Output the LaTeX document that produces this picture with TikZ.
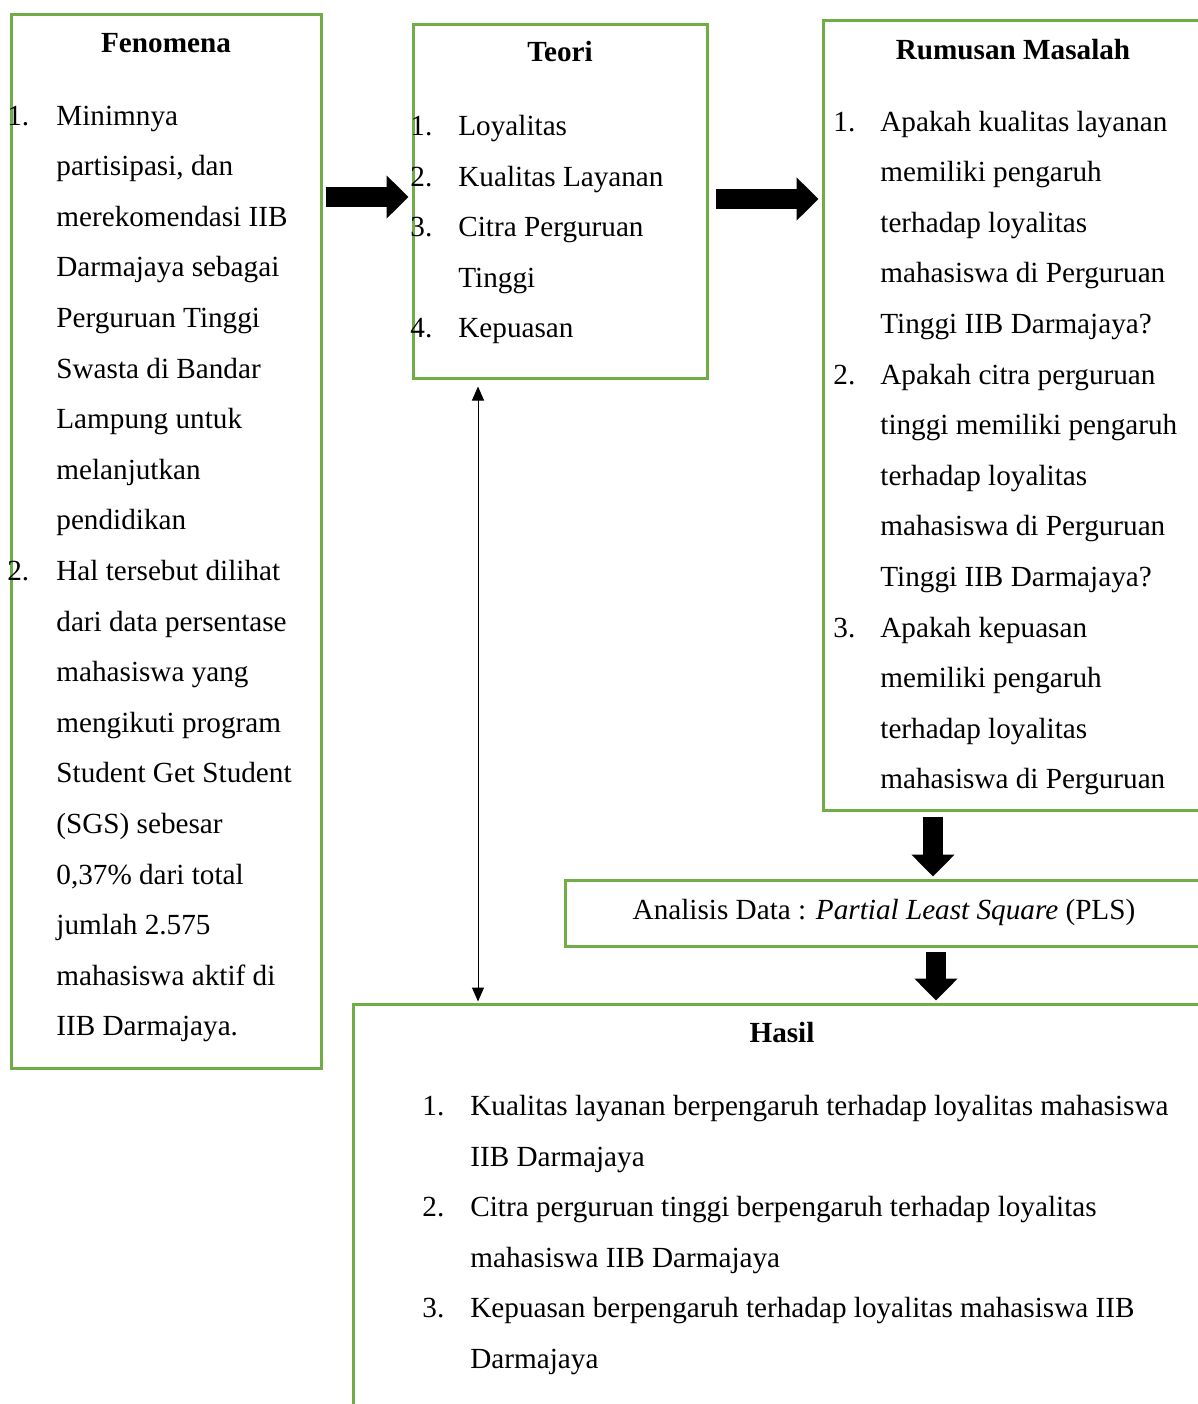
\documentclass[tikz,border=0pt]{standalone}
\usepackage{fontspec}
\setmainfont{Liberation Serif}
\usetikzlibrary{arrows.meta,fit}
\definecolor{boxgreen}{HTML}{70AD47}
\tikzset{
	box/.style={draw=boxgreen, line width=1.5pt, inner sep=0pt},
	txt/.style={font=\fontsize{14.6}{17}\selectfont, anchor=base west, inner sep=0pt},
	head/.style={txt, anchor=base, font=\fontsize{14.6}{17}\selectfont\bfseries},
	bigarrow/.style={line width=10pt, -{Triangle[length=11pt,width=21pt]}},
	thinarrow/.style={line width=0.5pt, {Triangle[length=7pt,width=6pt]}-{Triangle[length=7pt,width=6pt]}}
}

\begin{document}
\begin{tikzpicture}[x=0.5pt,y=-0.5pt]
				\useasboundingbox (0,0) rectangle (1198,1404);
				\clip (0,0) rectangle (1198,1404);
				
				% kotak
				\node[box, fit={(11,14) (321,1068)}] (fen) {};
				\node[box, fit={(413,24) (707,378)}] (teori) {};
				\node[box, fit={(823,20) (1230,810)}] (rumusan) {};
				\node[box, fit={(565,880) (1230,946)}] (analisis) {};
				\node[box, fit={(353,1004) (1230,1440)}] (hasil) {};
				
				% Fenomena
				\node[head] (fen-t) at (166,52.5) {Fenomena};
				\node[txt] (fen-n1) at (7,125) {1.};
				\node[txt] (fen-n2) at (7,580.4) {2.};
				\foreach \t [count=\i from 0] in {Minimnya, {partisipasi, dan}, merekomendasi IIB, Darmajaya sebagai, Perguruan Tinggi, Swasta di Bandar, Lampung untuk, melanjutkan, pendidikan, Hal tersebut dilihat, dari data persentase, mahasiswa yang, mengikuti program, Student Get Student, (SGS) sebesar, {0,37\% dari total}, jumlah 2.575, mahasiswa aktif di, IIB Darmajaya.}
					\node[txt] (fen-\i) at (56,125+50.6*\i) {\t};
				
				% Teori
				\node[head] (teori-t) at (560,61) {Teori};
				\foreach \n/\i in {1/0,2/1,3/2,4/4}
					\node[txt] (teori-n\n) at (410,135.5+50.6*\i) {\n.};
				\foreach \t [count=\i from 0] in {Loyalitas, Kualitas Layanan, Citra Perguruan, Tinggi, Kepuasan}
					\node[txt] (teori-\i) at (458,135.5+50.6*\i) {\t};
				
				% Rumusan Masalah
				\node[head] (rumusan-t) at (1013,59.5) {Rumusan Masalah};
				\foreach \n/\i in {1/0,2/5,3/10}
					\node[txt] (rumusan-n\n) at (833,131+50.6*\i) {\n.};
				\foreach \t [count=\i from 0] in {Apakah kualitas layanan, memiliki pengaruh, terhadap loyalitas, mahasiswa di Perguruan, Tinggi IIB Darmajaya?, Apakah citra perguruan, tinggi memiliki pengaruh, terhadap loyalitas, mahasiswa di Perguruan, Tinggi IIB Darmajaya?, Apakah kepuasan, memiliki pengaruh, terhadap loyalitas, mahasiswa di Perguruan}
					\node[txt] (rumusan-\i) at (880,131+50.6*\i) {\t};
				
				% Analisis
				\node[txt, anchor=base] (analisis-t) at (884,919.5) {Analisis Data : \textit{Partial Least Square} (PLS)};
				
				% Hasil
				\node[head] (hasil-t) at (782,1042.5) {Hasil};
				\foreach \n/\i in {1/0,2/2,3/4}
					\node[txt] (hasil-n\n) at (422,1115.5+50.6*\i) {\n.};
				\foreach \t [count=\i from 0] in {Kualitas layanan berpengaruh terhadap loyalitas mahasiswa, IIB Darmajaya, Citra perguruan tinggi berpengaruh terhadap loyalitas, mahasiswa IIB Darmajaya, Kepuasan berpengaruh terhadap loyalitas mahasiswa IIB, Darmajaya}
					\node[txt] (hasil-\i) at (470,1115.5+50.6*\i) {\t};
				
				% panah
				\draw[bigarrow, shorten <=1.5pt, shorten >=1.5pt] (fen.east |- 0,197) -- (teori.west |- 0,197);
				\draw[bigarrow, shorten <=3.5pt, shorten >=1.5pt] (teori.east |- 0,199) -- (rumusan.west |- 0,199);
				\draw[bigarrow, shorten <=2.5pt, shorten >=1pt] (rumusan.south -| 933,0) -- (analisis.north -| 933,0);
				\draw[bigarrow, shorten <=2pt, shorten >=1pt] (analisis.south -| 936,0) -- (hasil.north -| 936,0);
				\draw[thinarrow, shorten <=3.5pt, shorten >=0.5pt] (teori.south -| 478,0) -- (hasil.north -| 478,0);
			\end{tikzpicture}
\end{document}
